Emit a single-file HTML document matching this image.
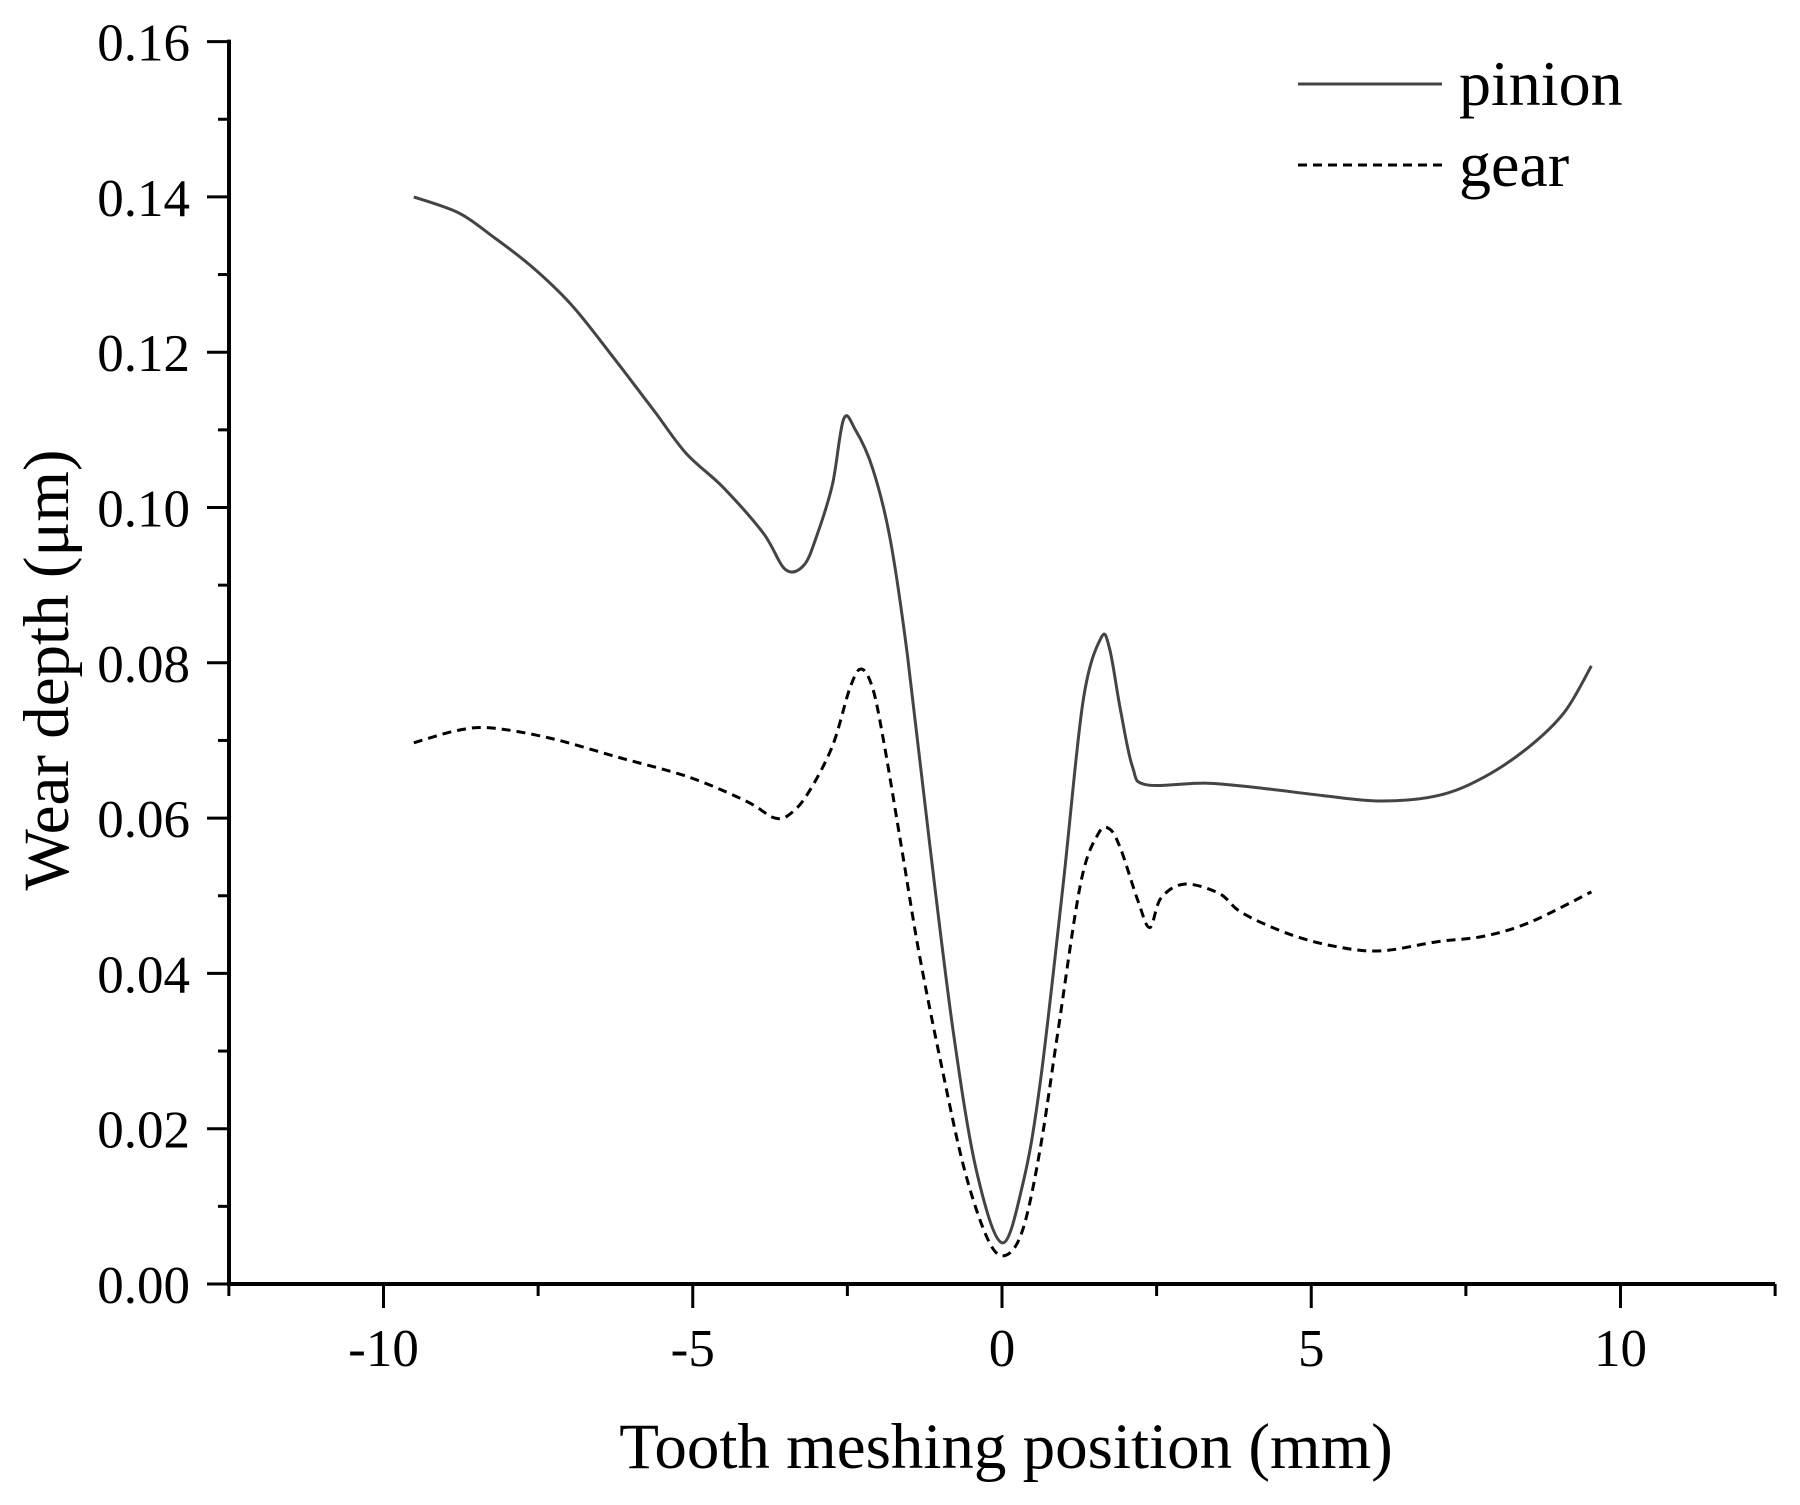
<!DOCTYPE html>
<html><head><meta charset="utf-8"><style>
html,body{margin:0;padding:0;background:#fff;}
svg{display:block;font-family:"Liberation Serif",serif;}
</style></head><body>
<svg id="chart" width="1800" height="1505" viewBox="0 0 1800 1505">
<g id="axes"></g>
<g id="series"></g>
<g>
<line x1="1298" y1="84" x2="1442" y2="84" stroke="#444" stroke-width="3"/>
<text x="1459" y="105" font-size="64">pinion</text>
<line x1="1298" y1="165" x2="1442" y2="165" stroke="#000" stroke-width="3" stroke-dasharray="9,6"/>
<text x="1459" y="186" font-size="64">gear</text>
</g>
<text x="1006" y="1468" font-size="65" text-anchor="middle">Tooth meshing position (mm)</text>
<text transform="translate(68,670) rotate(-90)" font-size="65" text-anchor="middle">Wear depth (μm)</text>
</svg>
<script>
const xTicks=[-10,-5,0,5,10];
const yTicks=[0,0.02,0.04,0.06,0.08,0.10,0.12,0.14,0.16];
const yTickLabels=["0.00","0.02","0.04","0.06","0.08","0.10","0.12","0.14","0.16"];
const pinionX=[-9.51,-8.8,-8.25,-7.6,-6.95,-6.3,-5.63,-5.11,-4.51,-3.86,-3.5,-3.2,-2.98,-2.74,-2.56,-2.37,-2.09,-1.81,-1.53,-1.16,-0.78,-0.41,0,0.34,0.62,0.99,1.31,1.6,1.74,1.92,2.11,2.33,3.32,4.25,5.19,6.12,7.05,7.8,8.54,9.1,9.53];
const pinionY=[0.140,0.138,0.135,0.131,0.126,0.1195,0.1125,0.107,0.1026,0.0967,0.092,0.0926,0.0967,0.103,0.1114,0.110,0.105,0.096,0.081,0.056,0.032,0.0145,0.0053,0.013,0.026,0.0515,0.075,0.0832,0.0818,0.0737,0.0666,0.0643,0.0645,0.0638,0.0629,0.0622,0.0629,0.0653,0.0693,0.0737,0.0796];
const gearX=[-9.51,-8.8,-8.25,-7.31,-6.19,-5.07,-4.14,-3.67,-3.4,-3.12,-2.74,-2.46,-2.28,-2.09,-1.9,-1.62,-1.34,-0.97,-0.6,-0.22,0.06,0.34,0.62,0.9,1.27,1.55,1.74,1.92,2.2,2.39,2.57,2.95,3.51,3.88,4.63,5.37,6.12,7.05,7.8,8.54,9.53];
const gearY=[0.0697,0.0713,0.0716,0.0703,0.0678,0.0653,0.0622,0.0600,0.0607,0.0634,0.0693,0.0767,0.0792,0.0767,0.0693,0.056,0.0426,0.0278,0.0145,0.0056,0.0037,0.0071,0.0175,0.0323,0.0515,0.0579,0.0586,0.056,0.0493,0.0459,0.0497,0.0515,0.0503,0.0478,0.0451,0.0435,0.0429,0.0441,0.0448,0.0466,0.0505];

const NS="http://www.w3.org/2000/svg";
const X0=1002, XU=61.85, Y0=1284, YU=155.3/0.02;
function sx(v){return X0+v*XU;}
function sy(v){return Y0-v*YU;}
function mk(tag,attrs,parent){const e=document.createElementNS(NS,tag);for(const k in attrs)e.setAttribute(k,attrs[k]);parent.appendChild(e);return e;}
const axes=document.getElementById('axes');
const series=document.getElementById('series');
let el=mk('line',{x1:sx(-12.5),y1:Y0,x2:sx(12.5),y2:Y0,stroke:'#000','stroke-width':4},axes);


el=mk('line',{x1:229,y1:sy(0.16)-2,x2:229,y2:Y0+2,stroke:'#000','stroke-width':4},axes);


for(let v=-12.5;v<=12.51;v+=2.5){
  const major=Math.abs(v%5)<0.01;
  el=mk('line',{x1:sx(v),y1:Y0,x2:sx(v),y2:Y0+(major?24:12),stroke:'#000','stroke-width':3},axes);
  
  
}
xTicks.forEach(v=>{
  el=mk('text',{x:sx(v),y:1366,'font-size':53,'text-anchor':'middle'},axes);
  el.textContent=String(v);
  
  
});
for(let i=0;i<=16;i++){
  const v=i*0.01;const major=i%2===0;
  el=mk('line',{x1:229-(major?22:11),y1:sy(v),x2:229,y2:sy(v),stroke:'#000','stroke-width':3},axes);
  
  
}
yTicks.forEach((v,i)=>{
  el=mk('text',{x:190,y:sy(v)+19,'font-size':53,'text-anchor':'end'},axes);
  el.textContent=yTickLabels[i];
  
  
});
function path(xs,ys){
  const p=xs.map((x,i)=>[sx(x),sy(ys[i])]);
  let d='M'+p[0][0].toFixed(1)+' '+p[0][1].toFixed(1);
  for(let i=0;i<p.length-1;i++){
    const p0=p[Math.max(0,i-1)],p1=p[i],p2=p[i+1],p3=p[Math.min(p.length-1,i+2)];
    const c1=[p1[0]+(p2[0]-p0[0])/6,p1[1]+(p2[1]-p0[1])/6];
    const c2=[p2[0]-(p3[0]-p1[0])/6,p2[1]-(p3[1]-p1[1])/6];
    d+=' C'+c1[0].toFixed(1)+' '+c1[1].toFixed(1)+' '+c2[0].toFixed(1)+' '+c2[1].toFixed(1)+' '+p2[0].toFixed(1)+' '+p2[1].toFixed(1);
  }
  return d;
}
el=mk('path',{d:path(pinionX,pinionY),fill:'none',stroke:'#444','stroke-width':3,'stroke-linejoin':'round'},series);


el=mk('path',{d:path(gearX,gearY),fill:'none',stroke:'#000','stroke-width':3,'stroke-dasharray':'9,6'},series);


</script>
</body></html>
